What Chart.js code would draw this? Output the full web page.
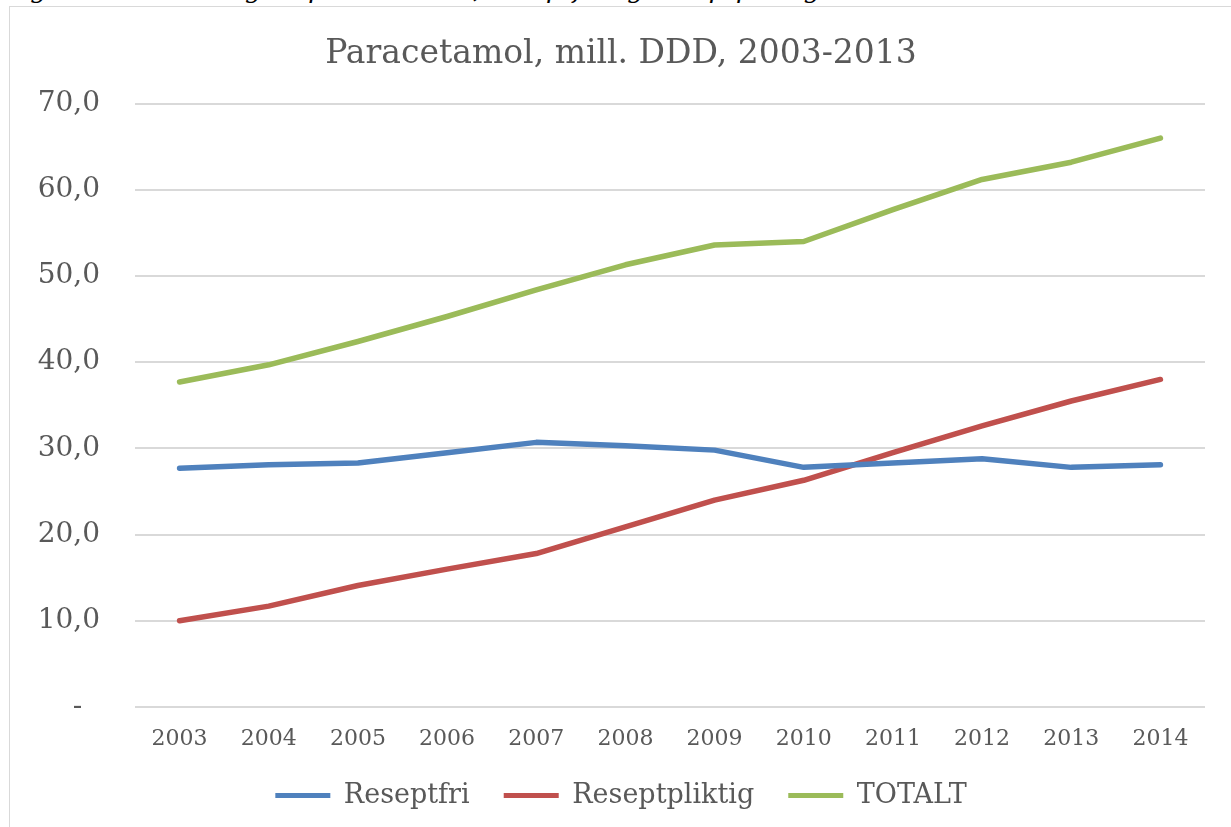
<!DOCTYPE html>
<html>
<head>
<meta charset="utf-8">
<script src="https://cdn.jsdelivr.net/npm/chart.js@4/dist/chart.umd.min.js"></script>
<style>
  html, body { margin: 0; padding: 0; background: #fff; overflow: hidden; }
  body { width: 1231px; height: 827px; position: relative; }
  #caption {
    position: absolute; left: 4px; top: -26px; white-space: nowrap;
    font: italic 26px "DejaVu Serif", serif; color: #000;
  }
  #frame {
    position: absolute; left: 9px; top: 6px; width: 1300px; height: 900px;
    border: 1px solid #d9d9d9;
  }
  #wrap { position: absolute; left: 10px; top: 7px; width: 1222px; height: 820px; }
</style>
</head>
<body>
<div id="caption">Figur 4: Omsetning av paracetamol, reseptfri og reseptpliktig</div>
<div id="frame"></div>
<div id="wrap"><canvas id="chart"></canvas></div>
<script>
const years = ['2003', '2004', '2005', '2006', '2007', '2008', '2009', '2010', '2011', '2012', '2013', '2014']
const reseptfri = [27.7, 28.1, 28.3, 29.5, 30.7, 30.3, 29.8, 27.8, 28.3, 28.8, 27.8, 28.1]
const reseptpliktig = [10.0, 11.7, 14.1, 16.0, 17.8, 20.9, 24.0, 26.3, 29.5, 32.6, 35.5, 38.0]
const totalt = [37.7, 39.7, 42.4, 45.3, 48.4, 51.3, 53.6, 54.0, 57.7, 61.2, 63.2, 66.0]
const yTicks = [0, 10, 20, 30, 40, 50, 60, 70]

const serif = '"DejaVu Serif", serif'
const grey = '#595959'

function line(label, data, color) {
    return {
        label: label,
        data: data,
        borderColor: color,
        backgroundColor: color,
        borderWidth: 5.5,
        borderCapStyle: 'round',
        borderJoinStyle: 'round',
        pointRadius: 0,
        tension: 0,
    }
}

const ctx = document.getElementById('chart').getContext('2d')

new Chart(ctx, {
    type: 'line',
    data: {
        labels: years,
        datasets: [
            line('Reseptfri', reseptfri, '#4f81bd'),
            line('Reseptpliktig', reseptpliktig, '#c0504d'),
            line('TOTALT', totalt, '#9bbb59'),
        ]
    },
    options: {
        responsive: true,
        maintainAspectRatio: false,
        animation: false,
        layout: { padding: { left: 0, right: 0, top: 0, bottom: 8 } },
        plugins: {
            title: {
                display: true,
                text: 'Paracetamol, mill. DDD, 2003-2013',
                color: grey,
                font: { family: serif, size: 33, weight: 'normal' },
                padding: { top: 28, bottom: 29 },
            },
            legend: {
                position: 'bottom',
                labels: {
                    color: grey,
                    font: { family: serif, size: 27 },
                    boxWidth: 55,
                    boxHeight: 5,
                    padding: 12,
                    generateLabels: chart => {
                        const items = Chart.defaults.plugins.legend.labels.generateLabels(chart)
                        items.forEach((it, i) => {
                            it.lineWidth = 0
                            it.fillStyle = it.strokeStyle
                            // wider gap between legend entries
                            if (i < items.length - 1) it.text += '\u2002 '
                        })
                        return items
                    }
                }
            },
            tooltip: { enabled: false },
        },
        scales: {
            x: {
                offset: true,
                grid: { display: false, drawTicks: false },
                border: { display: false },
                ticks: { color: grey, font: { family: serif, size: 22 }, padding: 19, maxRotation: 0 },
                afterFit: scale => { scale.height = 63 },
            },
            y: {
                min: 0,
                max: 70,
                afterBuildTicks: scale => { scale.ticks = yTicks.map(v => ({ value: v })) },
                grid: { color: '#d9d9d9', lineWidth: 2, drawTicks: false },
                border: { display: false },
                ticks: {
                    color: grey,
                    font: { family: serif, size: 28 },
                    padding: 35,
                    callback: v => v === 0 ? '-  ' : v.toFixed(1).replace('.', ','),
                },
                afterFit: scale => { scale.width = 125 },
            },
            pad: {
                position: 'right',
                display: true,
                grid: { display: false, drawTicks: false },
                border: { display: false },
                ticks: { display: false },
                afterFit: scale => { scale.width = 27 },
            },
        }
    }
})
</script>
</body>
</html>
